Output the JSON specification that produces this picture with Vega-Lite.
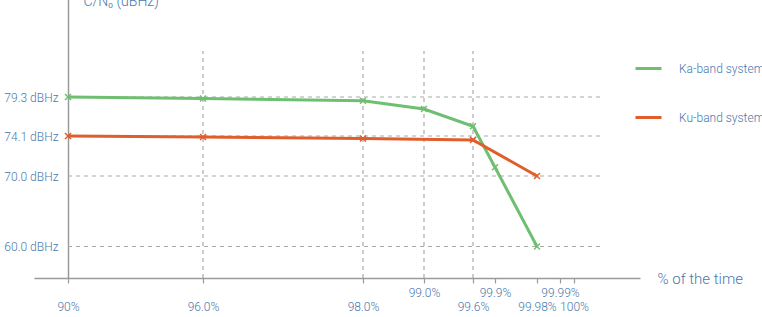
{
  "$schema": "https://vega.github.io/schema/vega-lite/v6.json",
  "width": 533,
  "height": 227,
  "autosize": {"type": "none"},
  "padding": {"left": 68, "top": 51, "right": 161, "bottom": 39},
  "background": "white",
  "config": {"view": {"stroke": null}, "font": "Roboto"},
  "layer": [
    {
      "data": {"values": [{"cn0": 60}, {"cn0": 70}, {"cn0": 74.1}, {"cn0": 79.3}]},
      "mark": {"type": "rule", "strokeDash": [4, 4], "color": "#aaaaaa", "strokeWidth": 1.2, "clip": false},
      "encoding": {
        "y": {"field": "cn0", "type": "quantitative"},
        "x": {"datum": 90, "type": "quantitative"},
        "x2": {"datum": 100.41}
      }
    },
    {
      "data": {"values": [{"pct": 96}, {"pct": 98}, {"pct": 99}, {"pct": 99.6}]},
      "mark": {"type": "rule", "strokeDash": [4, 4], "color": "#aaaaaa", "strokeWidth": 1.2, "clip": false},
      "encoding": {
        "x": {"field": "pct", "type": "quantitative"},
        "y": {"datum": 55.5, "type": "quantitative"},
        "y2": {"datum": 86.06}
      }
    },
    {
      "data": {"values": [
        {"system": "Ka-band system", "pct": 90, "cn0": 79.3},
        {"system": "Ka-band system", "pct": 96, "cn0": 79.1},
        {"system": "Ka-band system", "pct": 98, "cn0": 78.8},
        {"system": "Ka-band system", "pct": 99, "cn0": 77.7},
        {"system": "Ka-band system", "pct": 99.6, "cn0": 75.4},
        {"system": "Ka-band system", "pct": 99.9, "cn0": 70.9},
        {"system": "Ka-band system", "pct": 99.98, "cn0": 60},
        {"system": "Ku-band system", "pct": 90, "cn0": 74.1},
        {"system": "Ku-band system", "pct": 96, "cn0": 74.0},
        {"system": "Ku-band system", "pct": 98, "cn0": 73.85},
        {"system": "Ku-band system", "pct": 99.6, "cn0": 73.7},
        {"system": "Ku-band system", "pct": 99.98, "cn0": 70}
      ]},
      "mark": {"type": "line", "strokeWidth": 3, "clip": false,
        "point": {"shape": "M-1,-1L1,1M-1,1L1,-1", "filled": false, "size": 36, "strokeWidth": 1.5}},
      "encoding": {
        "x": {"field": "pct", "type": "quantitative",
          "scale": {"domain": [89, 90, 96, 98, 99, 99.6, 99.9, 99.98, 99.99, 100, 101],
                    "range": [-34, 0, 135, 295, 356, 405, 427, 469, 492, 506, 572], "nice": false, "zero": false},
          "axis": {
            "title": "% of the time",
            "values": [90, 96, 98, 99, 99.6, 99.9, 99.98, 99.99, 100],
            "labelExpr": "datum.value == 90 ? '90%' : datum.value == 100 ? '100%' : (datum.value == 99.98 || datum.value == 99.99) ? format(datum.value, '.2f') + '%' : format(datum.value, '.1f') + '%'",
            "labelPadding": {"condition": {"test": "indexof([99, 99.9, 99.99], datum.value) >= 0", "value": 4}, "value": 18},
            "labelFontSize": 12, "labelFontWeight": 300, "labelColor": "#4a78ad",
            "labelFlush": false, "labelOverlap": false,
            "domainColor": "#9a9a9a", "domainWidth": 1.5,
            "tickColor": "#9a9a9a", "tickSize": 5, "tickWidth": 1.2,
            "grid": false,
            "titleX": 589, "titleY": 0, "titleAlign": "left", "titleBaseline": "middle",
            "titleFontSize": 15, "titleFontWeight": 300, "titleColor": "#4a78ad",
            "encode": {"ticks": {"update": {"y": {"value": -7}}}}
          }},
        "y": {"field": "cn0", "type": "quantitative",
          "scale": {"domain": [55.5, 60, 70, 74.1, 79.3, 94],
                    "range": [227, 195.5, 125, 85, 46, -54], "nice": false, "zero": false},
          "axis": {
            "title": "C/N₀ (dBHz)",
            "values": [60, 70, 74.1, 79.3],
            "labelExpr": "format(datum.value, '.1f') + ' dBHz'",
            "ticks": false, "tickSize": 0, "tickOpacity": 0, "labelPadding": 10,
            "labelFontSize": 12, "labelFontWeight": 300, "labelColor": "#4a78ad",
            "domainColor": "#9a9a9a", "domainWidth": 1.5,
            "grid": false,
            "titleAngle": 0, "titleX": 15, "titleY": -46, "titleAlign": "left", "titleBaseline": "alphabetic",
            "titleFontSize": 14, "titleFontWeight": 300, "titleColor": "#4a78ad"
          }},
        "color": {"field": "system", "type": "nominal",
          "scale": {"domain": ["Ka-band system", "Ku-band system"], "range": ["#6fbf70", "#df5e2c"]},
          "legend": {"orient": "none", "legendX": 566, "legendY": 3, "title": null,
            "symbolType": "stroke", "symbolSize": 676, "symbolStrokeWidth": 3,
            "labelFontSize": 12, "labelFontWeight": 300, "labelColor": "#4a78ad",
            "labelOffset": 16, "rowPadding": 28, "padding": 0, "direction": "vertical"}}
      }
    },
    {
      "mark": {"type": "point", "shape": "triangle-right", "filled": true, "size": 45, "color": "#9a9a9a", "opacity": 1, "clip": false},
      "encoding": {"x": {"datum": 101, "type": "quantitative"}, "y": {"datum": 55.5, "type": "quantitative"}}
    },
    {
      "mark": {"type": "point", "shape": "triangle-up", "filled": true, "size": 45, "color": "#9a9a9a", "opacity": 1, "clip": false},
      "encoding": {"x": {"datum": 90, "type": "quantitative"}, "y": {"datum": 94, "type": "quantitative"}}
    }
  ]
}
